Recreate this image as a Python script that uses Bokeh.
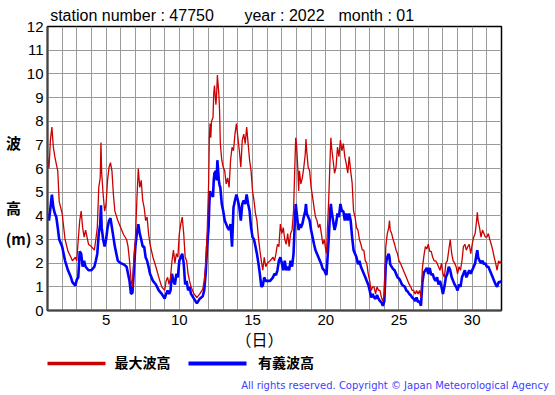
from bokeh.plotting import figure
from bokeh.models import Range1d, FixedTicker, LinearAxis
from bokeh.embed import file_html
from bokeh.resources import INLINE

# ---- data (day of month, wave heights in m) ----
day = [
    1.0, 1.1, 1.2, 1.3, 1.4, 1.5, 1.6, 1.7, 1.8, 2.0, 2.2, 2.4, 2.6, 2.7, 2.9, 3.0, 3.1, 3.2, 3.3, 3.4,
    3.5, 3.6, 3.8, 4.0, 4.2, 4.3, 4.4, 4.5, 4.6, 4.65, 4.7, 4.8, 4.9, 5.0, 5.1, 5.2, 5.3, 5.4, 5.5, 5.6,
    5.8, 6.0, 6.2, 6.4, 6.5, 6.6, 6.7,
    6.8, 6.9, 7.0, 7.1, 7.2, 7.3, 7.4, 7.5, 7.6, 7.7, 7.8, 7.9, 8.0, 8.2, 8.4, 8.6, 8.8, 9.0, 9.1, 9.2,
    9.3, 9.4, 9.5, 9.6, 9.7, 9.8, 9.9, 10.0, 10.1, 10.2, 10.3, 10.4, 10.5, 10.6, 10.7, 10.8, 11.0, 11.2,
    11.4, 11.6, 11.7, 11.8, 11.9, 12.0,
    12.05, 12.1, 12.15, 12.2, 12.3, 12.35, 12.4, 12.5, 12.55, 12.6, 12.7, 12.75, 12.8, 12.9, 13.0, 13.1,
    13.2, 13.3, 13.4, 13.5, 13.6, 13.7, 13.8, 13.9, 14.0, 14.1, 14.2, 14.3, 14.4, 14.5, 14.6, 14.7, 14.8,
    14.9, 15.0, 15.1, 15.2, 15.3, 15.4, 15.5, 15.6, 15.7, 15.8, 15.9, 16.0, 16.2, 16.4, 16.5, 16.6, 16.7,
    16.8, 16.9, 17.0,
    17.1, 17.2, 17.3, 17.4, 17.5, 17.6, 17.7, 17.8, 17.9, 17.95, 18.0, 18.1, 18.15, 18.2, 18.3, 18.4,
    18.5, 18.6, 18.65, 18.7, 18.8, 18.9, 19.0, 19.1, 19.2, 19.3, 19.4, 19.5, 19.6, 19.7, 19.8, 19.9, 20.0,
    20.05, 20.1, 20.2, 20.3, 20.35, 20.4, 20.5, 20.6, 20.7, 20.8, 20.9, 21.0, 21.1, 21.2, 21.3, 21.4,
    21.5, 21.6, 21.7, 21.8, 21.9, 22.0,
    22.1, 22.2, 22.3, 22.4, 22.5, 22.6, 22.7, 22.8, 22.9, 23.0, 23.1, 23.2, 23.3, 23.4, 23.5, 23.6, 23.7,
    23.8, 23.9, 24.0, 24.1, 24.2, 24.3, 24.35, 24.4, 24.5, 24.6, 24.7, 24.8, 24.9, 25.0, 25.1, 25.2, 25.3,
    25.4, 25.5, 25.6, 25.7, 25.8, 25.9, 26.0, 26.1, 26.2, 26.3, 26.4, 26.5,
    26.6, 26.7, 26.8, 26.9, 27.0, 27.1, 27.2, 27.3, 27.4, 27.5, 27.6, 27.7, 27.8, 27.9, 28.0, 28.1, 28.2,
    28.3, 28.4, 28.5, 28.6, 28.7, 28.8, 28.9, 29.0, 29.1, 29.2, 29.3, 29.4, 29.5, 29.6, 29.7, 29.8, 29.9,
    30.0, 30.1, 30.2, 30.3, 30.35, 30.4, 30.5, 30.6, 30.7, 30.8, 30.9, 31.0, 31.1, 31.2, 31.3, 31.4, 31.5,
    31.6, 31.7, 31.8, 31.9, 32.0,
]

max_wave = [
    6.5, 6.0, 7.2, 7.75, 6.9, 6.5, 6.2, 5.9, 4.6, 4.1, 3.0, 2.5, 2.25, 2.1, 2.25, 2.1, 3.0, 3.8, 4.2, 3.5,
    3.1, 3.4, 2.8, 2.7, 2.55, 3.0, 3.5, 5.2, 5.6, 7.1, 5.8, 4.9, 4.2, 4.5, 5.5, 6.05, 6.25, 5.9, 4.9, 4.2,
    3.8, 3.5, 3.2, 3.0, 2.7, 2.1, 1.3,
    1.0, 2.2, 3.0, 4.65, 6.0, 5.2, 5.5, 4.65, 4.35, 3.8, 3.95, 3.25, 2.8, 2.25, 1.85, 1.4, 1.0, 0.85, 1.25,
    1.4, 1.1, 1.4, 2.1, 2.55, 2.0, 2.4, 2.25, 3.25, 3.65, 3.95, 3.25, 2.25, 2.1, 1.55, 1.25, 1.0, 0.7,
    0.55, 0.7, 0.9, 1.25, 1.9, 3.25, 5.3,
    7.3, 7.9, 7.3, 8.0, 8.15, 9.15, 9.5, 8.7, 9.15, 9.95, 9.15, 8.45, 7.05, 6.35, 6.05, 5.9, 5.35, 5.6,
    5.2, 6.35, 6.9, 6.75, 7.45, 7.9, 7.3, 6.75, 6.05, 7.2, 7.45, 7.05, 7.75, 7.05, 6.35, 5.9, 5.05, 4.65,
    4.1, 3.8, 3.1, 2.55, 2.1, 1.7, 2.25, 1.85, 2.0, 2.1, 2.25, 2.1, 2.4, 2.8, 2.7, 3.65, 3.25,
    3.5, 3.0, 2.8, 3.25, 2.7, 3.25, 3.4, 4.2, 6.35, 7.3, 7.05, 5.9, 5.05, 5.9, 5.35, 5.6, 6.05, 6.6, 7.25,
    6.75, 6.05, 5.9, 5.2, 4.8, 4.35, 3.95, 3.8, 3.5, 3.65, 3.25, 2.8, 3.0, 2.55, 2.4, 3.25, 4.65, 6.5,
    7.3, 6.9, 6.35, 5.8, 6.05, 6.9, 6.5, 7.2, 6.75, 7.05, 6.5, 6.2, 5.8, 6.5, 5.9, 5.4, 4.2, 3.95,
    3.5, 3.4, 3.0, 2.8, 2.55, 2.55, 2.1, 2.0, 1.55, 1.25, 0.85, 1.0, 1.0, 0.7, 1.0, 0.85, 0.85, 0.55, 0.4,
    0.7, 2.7, 3.25, 3.5, 3.8, 3.4, 3.25, 3.0, 2.8, 2.55, 2.4, 2.1, 2.0, 1.85, 1.7, 1.55, 1.4, 1.25, 1.1,
    1.0, 0.85, 0.85, 0.7, 0.85, 0.7, 0.85, 0.55,
    1.8, 2.3, 2.7, 2.6, 2.8, 2.5, 2.5, 2.25, 2.1, 2.1, 2.0, 1.85, 1.7, 2.0, 1.55, 1.4, 2.0, 2.1, 2.55,
    3.0, 2.4, 2.1, 2.0, 1.85, 1.55, 1.85, 1.7, 2.1, 2.7, 2.8, 2.55, 2.7, 2.8, 2.4, 2.8, 3.1, 3.25, 3.8,
    4.15, 3.8, 3.5, 3.1, 3.4, 3.25, 3.1, 3.1, 3.25, 3.0, 2.8, 2.55, 2.25, 2.0, 1.7, 2.1, 2.0, 2.1,
]

sig_wave = [
    4.1, 3.8, 4.35, 4.9, 4.35, 4.1, 3.95, 3.5, 3.0, 2.7, 2.1, 1.7, 1.4, 1.2, 1.05, 1.3, 1.4, 2.5, 2.4, 1.85,
    2.1, 1.85, 1.7, 1.7, 1.85, 2.1, 2.4, 3.25, 3.65, 4.45, 3.5, 3.0, 2.7, 3.0, 3.5, 3.8, 3.9, 3.5, 3.1, 2.7,
    2.1, 2.0, 1.95, 1.85, 1.55, 1.25, 0.7,
    0.75, 1.7, 2.7, 3.25, 3.65, 3.25, 3.0, 2.7, 2.7, 2.25, 2.1, 1.85, 1.55, 1.25, 1.1, 0.85, 0.7, 0.5, 0.7,
    0.85, 0.7, 0.85, 1.55, 1.25, 1.1, 1.55, 1.4, 2.1, 2.25, 2.4, 2.0, 1.1, 1.25, 0.85, 1.0, 0.7, 0.5,
    0.3, 0.5, 0.6, 0.85, 1.55, 2.7, 3.5,
    4.5, 5.05, 4.9, 4.9, 4.8, 5.5, 5.8, 5.9, 5.5, 6.35, 5.5, 5.3, 5.2, 4.5, 4.2, 3.8, 3.65, 3.5, 3.4, 3.65,
    2.7, 4.35, 4.65, 4.9, 4.65, 4.35, 3.8, 4.5, 4.65, 4.5, 4.9, 4.5, 4.2, 3.5, 3.1, 3.0, 2.7, 2.4, 2.0,
    1.55, 1.0, 1.05, 1.4, 1.25, 1.25, 1.25, 1.4, 1.55, 1.5, 1.7, 2.1, 2.25, 2.0,
    1.7, 2.1, 1.7, 1.85, 1.7, 2.1, 1.85, 2.4, 3.95, 4.5, 4.2, 3.65, 3.4, 3.65, 3.5, 3.65, 3.95, 4.2, 4.5,
    4.1, 3.95, 3.8, 3.4, 3.1, 2.8, 2.55, 2.4, 2.25, 2.1, 1.95, 1.75, 1.7, 1.55, 1.5, 2.0, 3.0, 4.2, 4.5,
    4.2, 3.8, 3.4, 3.65, 4.1, 3.95, 4.5, 4.2, 4.2, 3.8, 4.1, 3.8, 4.1, 3.8, 3.1, 2.55, 2.4,
    2.25, 1.95, 2.1, 1.85, 1.7, 1.55, 1.4, 1.25, 1.1, 0.85, 0.55, 0.7, 0.55, 0.5, 0.65, 0.5, 0.4, 0.35,
    0.2, 0.4, 1.95, 2.25, 2.4, 2.25, 1.95, 1.85, 1.75, 1.7, 1.55, 1.4, 1.35, 1.25, 1.1, 1.05, 1.0, 0.85,
    0.8, 0.7, 0.65, 0.55, 0.5, 0.4, 0.55, 0.35, 0.4, 0.2,
    1.2, 1.6, 1.7, 1.8, 1.55, 1.8, 1.5, 1.55, 1.35, 1.25, 1.4, 1.1, 1.25, 1.0, 0.7, 1.0, 1.4, 1.55, 1.85,
    1.7, 1.4, 1.25, 1.1, 1.0, 0.85, 1.1, 1.0, 1.4, 1.55, 1.7, 1.4, 1.55, 1.7, 1.55, 1.7, 1.85, 2.0, 2.4,
    2.55, 2.25, 2.1, 2.0, 2.1, 1.95, 2.0, 1.85, 1.85, 1.7, 1.55, 1.4, 1.25, 1.1, 1.0, 1.2, 1.2, 1.25,
]

x_ticks = [5, 10, 15, 20, 25, 30]
y_ticks = list(range(0, 13))
grid_days = list(range(1, 33))
title_parts = ["station number : 47750", "year : 2022", "month : 01"]
y_label_parts = ["波\u2002\u2009", "高\u2002\u2009", "(m)"]
x_label = "（日）"
legend_labels = ["最大波高", "有義波高"]
copyright_text = "All rights reserved. Copyright © Japan Meteorological Agency"
RED, BLUE = "#cc0000", "#0000ff"

# ---- figure geometry (reference pixels) ----
W, H = 555, 395
FL, FR, FT, FB = 47, 501, 26, 310

def dx(px):  # reference pixel column -> day
    return round(1 + (px - FL) * 31.0 / (FR - FL), 3)

def dy(py):  # reference pixel row -> metres
    return round((FB - py) * 12.0 / (FB - FT), 3)

p = figure(width=W, height=H, output_backend="svg", toolbar_location=None,
           x_range=Range1d(1, 32), y_range=Range1d(0, 12),
           min_border_left=FL, min_border_right=W - FR,
           min_border_top=FT, min_border_bottom=H - FB)
p.background_fill_color = "white"
p.border_fill_color = "white"
p.outline_line_color = "black"
p.outline_line_width = 1.5

xa = p.below[0]
ya = p.left[0]
for ax in (xa, ya):
    ax.axis_line_color = "#444444"
    ax.axis_line_width = 2
    ax.major_tick_line_color = None
    ax.minor_tick_line_color = None
    ax.major_tick_out = 0
    ax.major_tick_in = 0
    ax.major_label_text_font = "Liberation Sans"
    ax.major_label_text_font_size = "15px"
    ax.major_label_text_color = "black"
xa.ticker = FixedTicker(ticks=x_ticks)
ya.ticker = FixedTicker(ticks=y_ticks)
xa.major_label_standoff = 4
ya.major_label_standoff = 4

p.xgrid.ticker = FixedTicker(ticks=grid_days)
p.ygrid.ticker = FixedTicker(ticks=y_ticks)
for g in (p.xgrid[0], p.ygrid[0]):
    g.grid_line_color = "#9a9a9a"
    g.grid_line_width = 1

# series: blue under red
p.line(day, sig_wave, line_color=BLUE, line_width=2.6)
p.line(day, max_wave, line_color=RED, line_width=1.3)


def text_axis(ticks, labels, font="Liberation Sans", size="15px", style="normal",
              color="black", standoff=0, line_color=None, line_width=1, bounds="auto",
              space=0, alpha=1.0):
    return LinearAxis(ticker=FixedTicker(ticks=ticks),
                      major_label_overrides=dict(zip(ticks, labels)),
                      axis_line_color=line_color, axis_line_width=line_width, bounds=bounds,
                      major_tick_line_color=None, minor_tick_line_color=None,
                      major_tick_in=0, major_tick_out=space, minor_tick_out=0, minor_tick_in=0,
                      major_label_standoff=standoff, major_label_text_alpha=alpha,
                      major_label_text_font=font, major_label_text_font_size=size,
                      major_label_text_font_style=style, major_label_text_color=color)

# title above the frame
p.add_layout(text_axis([dx(131.5), dx(284), dx(375.8)], title_parts,
                       size="16px", standoff=3), "above")

# vertical axis caption (upright CJK characters)
p.add_layout(text_axis([dy(142), dy(207), dy(238)], y_label_parts,
                       font="Noto Sans CJK JP", size="15px", style="bold", standoff=-8), "left")

# x caption
p.add_layout(text_axis([dx(259)], [x_label], font="Noto Sans CJK JP", size="16px",
                       standoff=-1), "below")

# invisible spacer row before the legend
p.add_layout(text_axis([1.5], ["."], size="1px", space=10, alpha=0.0), "below")

# legend: coloured axis lines + bold labels on the same row
p.add_layout(text_axis([], [], line_color=RED, line_width=3.5,
                       bounds=(dx(45), dx(105))), "below")
p.add_layout(text_axis([dx(142), dx(285.5)], legend_labels, font="Noto Sans CJK JP",
                       size="14px", style="bold", standoff=-12, line_color=BLUE,
                       line_width=4, bounds=(dx(188), dx(246))), "below")

# copyright
p.add_layout(text_axis([dx(394.5)], [copyright_text], font="DejaVu Sans", size="10px",
                       color="#4040ff", standoff=5), "below")

open("out.html", "w").write(file_html(p, INLINE))
